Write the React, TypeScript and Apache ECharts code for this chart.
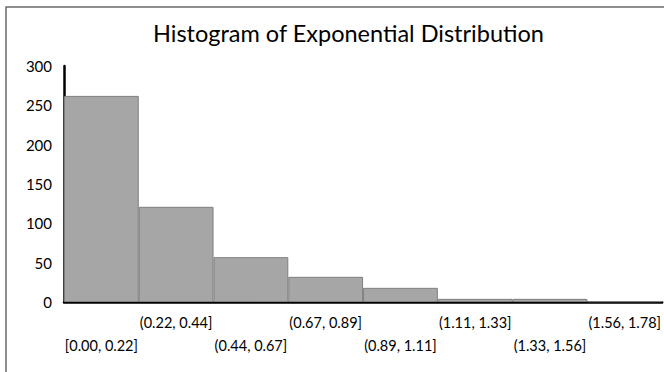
import React, { useEffect, useRef } from "react";
import * as echarts from "echarts";

const categories = [
  "[0.00, 0.22]",
  "(0.22, 0.44]",
  "(0.44, 0.67]",
  "(0.67, 0.89]",
  "(0.89, 1.11]",
  "(1.11, 1.33]",
  "(1.33, 1.56]",
  "(1.56, 1.78]",
];
const counts = [262, 121, 57, 32, 18, 4, 4, 1];
const yTicks = { min: 0, max: 300, interval: 50 };
const titleText = "Histogram of Exponential Distribution";

export default function App() {
  const ref = useRef<HTMLDivElement>(null);
  useEffect(() => {
    const chart = echarts.init(ref.current!, undefined, { renderer: "svg" });
    const font = "Lato, 'Open Sans', sans-serif";
    chart.setOption({
      animation: false,
      backgroundColor: "#ffffff",
      title: {
        text: titleText,
        left: 148,
        top: 16,
        textStyle: { fontFamily: font, fontSize: 23.5, fontWeight: "normal", color: "#000" },
      },
      graphic: [
        {
          type: "rect",
          shape: { x: 6, y: 7, width: 700, height: 400 },
          style: { fill: "none", stroke: "#6b6b6b", lineWidth: 1.5 },
          silent: true,
          z: -1,
        },
      ],
      grid: { left: 64, right: 1, top: 66, bottom: 70, containLabel: false },
      xAxis: {
        type: "category",
        data: categories,
        axisLine: { show: true, lineStyle: { color: "#000", width: 2.5 } },
        axisTick: { show: false },
        axisLabel: {
          interval: 0,
          margin: 9,
          fontFamily: font,
          fontSize: 14.5,
          color: "#000",
          lineHeight: 23,
          formatter: (v: string, i: number) => (i % 2 === 0 ? "\n" + v : v),
        },
      },
      yAxis: {
        type: "value",
        min: yTicks.min,
        max: yTicks.max,
        interval: yTicks.interval,
        splitLine: { show: false },
        axisLine: { show: true, lineStyle: { color: "#000", width: 2.5 } },
        axisTick: { show: false },
        axisLabel: { margin: 12, fontFamily: font, fontSize: 15, color: "#000" },
      },
      series: [
        {
          type: "bar",
          data: counts,
          barWidth: "100%",
          barGap: "0%",
          itemStyle: { color: "#a6a6a6", borderColor: "#7f7f7f", borderWidth: 1 },
        },
      ],
    });
    return () => chart.dispose();
  }, []);
  return <div ref={ref} style={{ width: 664, height: 372, position: "absolute", left: 0, top: 0 }} />;
}
